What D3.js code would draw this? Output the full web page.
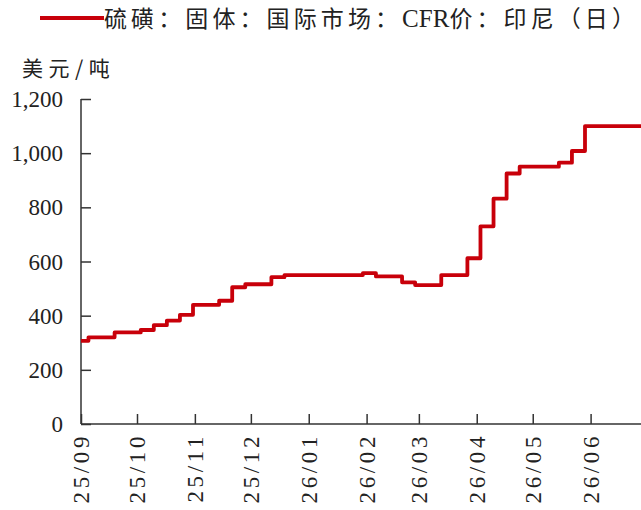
<!DOCTYPE html>
<html>
<head>
<meta charset="utf-8">
<script src="https://cdn.jsdelivr.net/npm/d3@7"></script>
<style>
  html, body { margin: 0; padding: 0; background: #fff; }
  svg { display: block; }
</style>
</head>
<body>
<svg id="chart" width="641" height="510"></svg>
<script>
// Sulphur, solid, international market, CFR Indonesia (daily), USD/t.
// Each date is the day the quoted price changed; the value holds until the next one.
const changeDates = [
  "2025-09-01", "2025-09-05", "2025-09-19", "2025-10-03", "2025-10-10",
  "2025-10-17", "2025-10-24", "2025-10-31", "2025-11-14", "2025-11-21",
  "2025-11-28", "2025-12-12", "2025-12-19", "2026-01-30", "2026-02-06",
  "2026-02-20", "2026-02-27", "2026-03-13", "2026-03-27", "2026-04-03",
  "2026-04-10", "2026-04-17", "2026-04-24", "2026-05-15", "2026-05-22",
  "2026-05-29", "2026-06-28"
];
const prices = [
  307, 320, 338, 347, 365,
  382, 403, 440, 455, 505,
  516, 542, 550, 557, 545,
  523, 513, 550, 612, 730,
  832, 925, 950, 965, 1008,
  1100, 1100
];
const yTicks = [0, 200, 400, 600, 800, 1000, 1200];
const seriesNameParts = [
  { text: "硫磺：固体：国际市场：", latin: false },
  { text: "CFR", latin: true },
  { text: "价：印尼（日）", latin: false }
];
const unitLabel = "美元/吨";

const parse = d3.timeParse("%Y-%m-%d");
const data = changeDates.map((d, i) => ({ date: parse(d), value: prices[i] }));

const svg = d3.select("#chart");
const plotLeft = 81, plotRight = 641, plotTop = 99, plotBottom = 424;
const red = "#c8000a";
const axisColor = "#333";
const serif = "'Liberation Serif', 'Times New Roman', serif";
const cjk = "'Noto Sans CJK SC', 'Liberation Serif', serif";

const x = d3.scaleTime()
  .domain([parse("2025-09-01"), parse("2026-06-28")])
  .range([plotLeft, plotRight]);
const y = d3.scaleLinear().domain([0, 1200]).range([plotBottom, plotTop]);

// y axis: ticks point into the plot
const yAxis = svg.append("g")
  .attr("transform", `translate(${plotLeft},0)`)
  .call(d3.axisRight(y).tickValues(yTicks).tickSize(10).tickFormat(""));
yAxis.select(".domain").attr("d", `M0,${plotTop}V${plotBottom}`);
yAxis.selectAll("line, path").attr("stroke", axisColor).attr("stroke-width", 1.5);

svg.append("g").selectAll("text")
  .data(yTicks)
  .join("text")
  .attr("x", plotLeft - 18)
  .attr("y", d => y(d))
  .attr("dy", "0.35em")
  .attr("text-anchor", "end")
  .attr("font-family", serif)
  .attr("font-size", 23)
  .attr("fill", "#222")
  .text(d => d3.format(",")(d));

// x axis: monthly ticks pointing up, labels rotated
const xAxis = svg.append("g")
  .attr("transform", `translate(0,${plotBottom})`)
  .call(d3.axisTop(x).ticks(d3.timeMonth.every(1)).tickSize(10).tickFormat(""));
xAxis.select(".domain").attr("d", `M${plotLeft},0H${plotRight}`);
xAxis.selectAll("line, path").attr("stroke", axisColor).attr("stroke-width", 1.5);

const months = x.ticks(d3.timeMonth.every(1));
svg.append("g").selectAll("text")
  .data(months)
  .join("text")
  .attr("transform", d => `translate(${x(d)},${plotBottom + 9}) rotate(-90)`)
  .attr("dy", "0.35em")
  .attr("text-anchor", "end")
  .attr("font-family", serif)
  .attr("font-size", 23)
  .attr("letter-spacing", 3.6)
  .attr("fill", "#222")
  .text(d => d3.timeFormat("%y/%m")(d));

// price line
const line = d3.line()
  .x(d => x(d.date))
  .y(d => y(d.value))
  .curve(d3.curveStepAfter);
svg.append("path")
  .datum(data)
  .attr("fill", "none")
  .attr("stroke", red)
  .attr("stroke-width", 3.8)
  .attr("stroke-linejoin", "round")
  .attr("d", line);

// unit label
svg.append("text")
  .attr("x", 22)
  .attr("y", 76)
  .attr("font-family", cjk)
  .attr("font-size", 21)
  .attr("letter-spacing", 5.5)
  .attr("fill", "#222")
  .text(unitLabel);

// legend
svg.append("line")
  .attr("x1", 40).attr("x2", 104)
  .attr("y1", 18).attr("y2", 18)
  .attr("stroke", red).attr("stroke-width", 3.8);
svg.append("text")
  .attr("x", 104)
  .attr("y", 27)
  .attr("fill", "#222")
  .selectAll("tspan")
  .data(seriesNameParts)
  .join("tspan")
  .attr("font-family", d => d.latin ? serif : cjk)
  .attr("font-size", d => d.latin ? 25 : 23)
  .attr("letter-spacing", d => d.latin ? 0 : 4.1)
  .text(d => d.text);
</script>
</body>
</html>
